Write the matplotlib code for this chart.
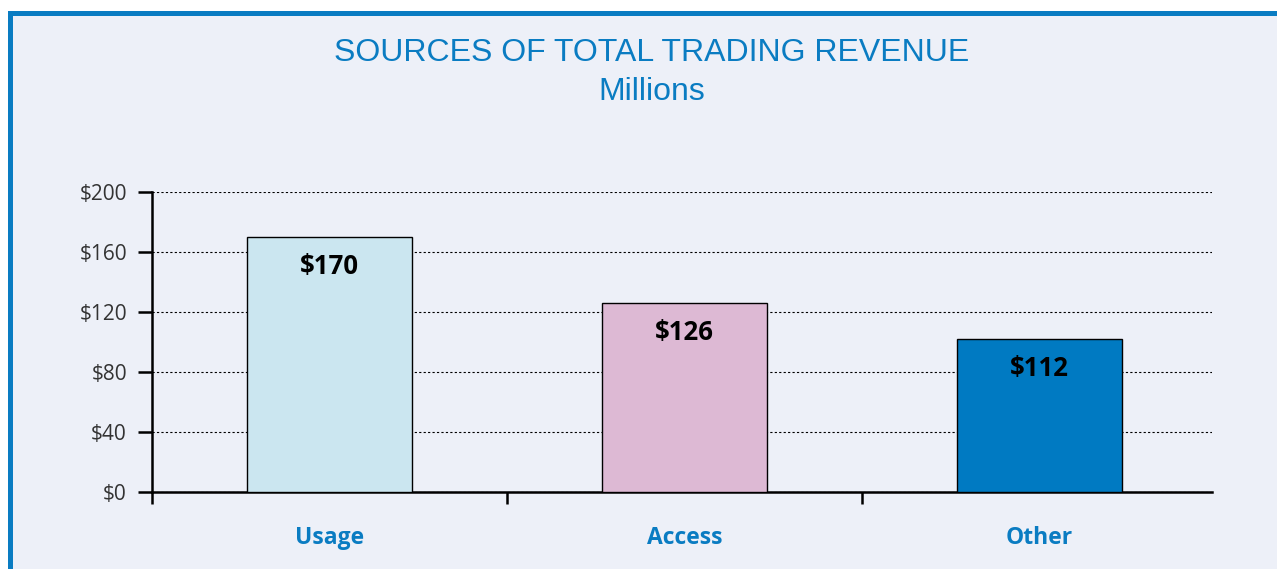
import matplotlib.pyplot as plt
from matplotlib.patches import Rectangle

# data
categories = ["Usage", "Access", "Other"]
bar_heights = [170, 126, 102]
value_labels = ["$170", "$126", "$112"]
y_ticks = [0, 40, 80, 120, 160, 200]

bg = "#edf0f8"
blue = "#0a7cc2"
bar_colors = ["#cbe6f0", "#ddb9d4", "#007ac2"]

plt.rcParams['font.family'] = ['Liberation Sans', 'DejaVu Sans']
label_font = ['Open Sans', 'DejaVu Sans']

fig = plt.figure(figsize=(12.77, 5.69), dpi=100)
fig.patch.set_facecolor("white")

# panel with blue border on top and left
W, H = 1277, 569
panel = Rectangle((9.5 / W, -0.1), 1.2, 1 - 13.5 / H + 0.1,
                  transform=fig.transFigure, facecolor=bg, edgecolor=blue,
                  linewidth=3.6, zorder=-5)
fig.patches.append(panel)

ax = fig.add_axes([152 / W, 1 - 492 / H, 1060 / W, 300 / H])
ax.set_facecolor("none")

x = [i + 0.5 for i in range(len(categories))]
ax.bar(x, bar_heights, width=0.465, color=bar_colors, edgecolor="black",
       linewidth=1.0, zorder=3)

for xi, h, lab in zip(x, bar_heights, value_labels):
    ax.text(xi, h - 19.5, lab, ha="center", va="center", fontsize=18.5,
            fontweight="bold", color="black", family=label_font, zorder=4)

ax.set_xlim(0, 2.986)
ax.set_ylim(0, 200)
ax.set_yticks(y_ticks)
ax.set_yticklabels(["$%d" % v for v in y_ticks], fontsize=15, color="#333333",
                   family=label_font)
ax.set_xticks([0, 1, 2])
ax.set_xticklabels([])
ax.tick_params(axis="y", direction="out", length=10, width=1.8, pad=8)
ax.tick_params(axis="x", direction="out", length=8.6, width=1.8)

ax.yaxis.grid(True, linestyle=(0, (2, 2)), color="black", linewidth=0.8, zorder=1)
ax.set_axisbelow(True)

for s in ["top", "right"]:
    ax.spines[s].set_visible(False)
ax.spines["left"].set_linewidth(1.8)
ax.spines["bottom"].set_linewidth(1.8)

for xi, c in zip(x, categories):
    ax.text(xi, -0.153, c, transform=ax.get_xaxis_transform(), ha="center",
            va="center", fontsize=16.5, fontweight="bold", color=blue,
            family=label_font)

fig.text(652 / W, 1 - 53 / H, "SOURCES OF TOTAL TRADING REVENUE", ha="center",
         va="center", fontsize=23, color=blue)
fig.text(652 / W, 1 - 92 / H, "Millions", ha="center", va="center",
         fontsize=23, color=blue)

fig.savefig("out.png", dpi=100, facecolor=fig.get_facecolor())
